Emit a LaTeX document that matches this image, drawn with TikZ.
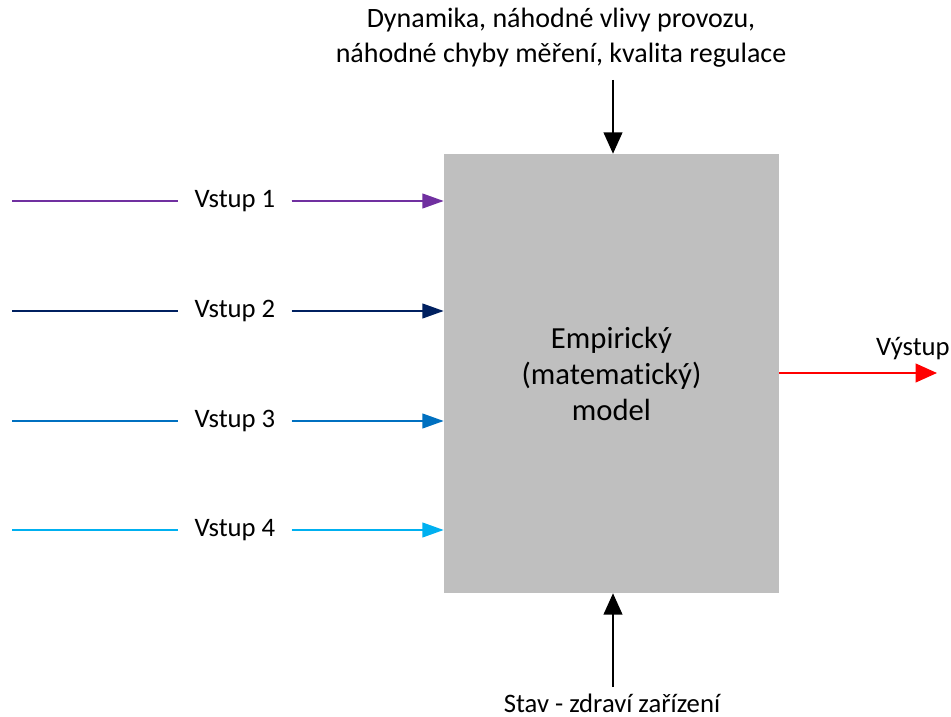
\documentclass[tikz,border=0pt]{standalone}
\usepackage{fontspec}
\setmainfont{Carlito}[Ligatures={NoCommon}]
\usetikzlibrary{arrows.meta}
\definecolor{boxgray}{HTML}{BFBFBF}
\definecolor{cin1}{HTML}{7030A0}
\definecolor{cin2}{HTML}{002060}
\definecolor{cin3}{HTML}{0070C0}
\definecolor{cin4}{HTML}{00B0F0}
\definecolor{cout}{HTML}{FF0000}
\tikzset{
  lblfont/.style={font=\fontsize{20pt}{26pt}\selectfont},
  lbl/.style={lblfont, inner xsep=12pt, inner ysep=0pt},
  conn/.style={line width=1.5pt},
  inarrow/.style={conn, -{Triangle[length=16pt,width=11pt]}},
  bigarrow/.style={conn, -{Triangle[length=16pt,width=14pt]}},
  modelbox/.style={fill=boxgray, draw=none, minimum width=251.25pt, minimum height=329.25pt,
    align=center, font=\fontsize{23pt}{27pt}\selectfont},
}
\begin{document}
\begin{tikzpicture}[x=0.75pt,y=-0.75pt]
\useasboundingbox (0,0) rectangle (951,717);
\node[modelbox] (box) at (611.5,373.5) {Empirický\\(matematický)\\model};
% inputs
\foreach \i/\yy in {1/201,2/311,3/421,4/530}{
  \coordinate (s\i) at (12,\yy);
  \node[lbl] (v\i) at (235,\yy) {Vstup \i};
  \draw[conn, draw=cin\i] (s\i) -- (v\i);
  \draw[inarrow, draw=cin\i, fill=cin\i] (v\i) -- (v\i -| box.west);
}
% output
\coordinate (oend) at (937,373);
\draw[bigarrow, draw=cout, fill=cout] (box.east |- oend) -- (oend);
\node[anchor=base east, inner sep=0pt, lblfont] (vy) at (950,355) {Výstup};
% top disturbance
\node[anchor=north, inner sep=0pt, align=center, font=\fontsize{21pt}{26.25pt}\selectfont] (dist) at (561,8)
  {Dynamika, náhodné vlivy provozu,\\náhodné chyby měření, kvalita regulace};
\coordinate (tstart) at (613,80);
\draw[bigarrow] (tstart) -- (tstart |- box.north);
% bottom state
\node[anchor=base, inner sep=0pt, lblfont] (stav) at (612,712) {Stav - zdraví zařízení};
\coordinate (bstart) at (613,687);
\draw[bigarrow] (bstart) -- (bstart |- box.south);
\end{tikzpicture}
\end{document}
